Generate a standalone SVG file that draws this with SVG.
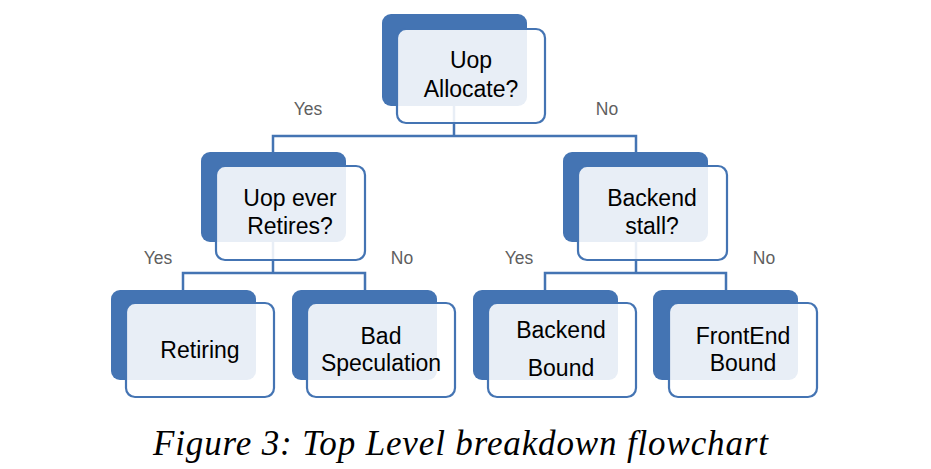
<svg xmlns="http://www.w3.org/2000/svg" width="931" height="469" viewBox="0 0 931 469">
<defs>
<style>
.dk{fill:#4474B3}
.lt{fill:#fff;fill-opacity:0.88;stroke:#4474B3;stroke-width:2.2}
.conn{fill:none;stroke:#4474B3;stroke-width:2.5}
.t{font-family:"Liberation Sans",Arial,sans-serif;font-size:23px;fill:#000;text-anchor:middle}
.lb{font-family:"Liberation Sans",Arial,sans-serif;font-size:17.5px;fill:#5F5F5F;text-anchor:middle}
.cap{font-family:"Liberation Serif","Times New Roman",serif;font-style:italic;font-size:35px;fill:#000;text-anchor:middle}
</style>
</defs>
<rect width="931" height="469" fill="#fff"/>
<g id="connectors">
<path class="conn" d="M454,106 V136 H273 V152 M454,136 H636 V152"/>
<path class="conn" d="M273,242 V273 H183 V290 M273,273 H365 V290"/>
<path class="conn" d="M636,242 V273 H545 V290 M636,273 H726 V290"/>
</g>
<g id="n-allocate">
<rect class="dk" x="382" y="14" width="145" height="92" rx="9"/>
<rect class="lt" x="397" y="29" width="148" height="94" rx="9"/>
<text class="t" x="471" y="68">Uop</text>
<text class="t" x="471" y="97">Allocate?</text>
</g>
<g id="n-retires">
<rect class="dk" x="201" y="152" width="145" height="90" rx="9"/>
<rect class="lt" x="216" y="166" width="149" height="94" rx="9"/>
<text class="t" x="290" y="206">Uop ever</text>
<text class="t" x="290" y="234">Retires?</text>
</g>
<g id="n-backend-stall">
<rect class="dk" x="563" y="152" width="145" height="90" rx="9"/>
<rect class="lt" x="578" y="166" width="149" height="94" rx="9"/>
<text class="t" x="652" y="206">Backend</text>
<text class="t" x="652" y="234">stall?</text>
</g>
<g id="n-retiring">
<rect class="dk" x="111" y="290" width="145" height="90" rx="9"/>
<rect class="lt" x="126" y="303" width="148" height="94" rx="9"/>
<text class="t" x="200" y="358">Retiring</text>
</g>
<g id="n-bad-spec">
<rect class="dk" x="292" y="290" width="145" height="90" rx="9"/>
<rect class="lt" x="307" y="303" width="148" height="94" rx="9"/>
<text class="t" x="381" y="344">Bad</text>
<text class="t" x="381" y="371">Speculation</text>
</g>
<g id="n-backend-bound">
<rect class="dk" x="473" y="290" width="145" height="90" rx="9"/>
<rect class="lt" x="488" y="303" width="148" height="94" rx="9"/>
<text class="t" x="561" y="338">Backend</text>
<text class="t" x="561" y="376">Bound</text>
</g>
<g id="n-frontend-bound">
<rect class="dk" x="653" y="290" width="145" height="90" rx="9"/>
<rect class="lt" x="669" y="303" width="148" height="94" rx="9"/>
<text class="t" x="743" y="344">FrontEnd</text>
<text class="t" x="743" y="371">Bound</text>
</g>
<g id="labels">
<text class="lb" x="308" y="115">Yes</text>
<text class="lb" x="607" y="115">No</text>
<text class="lb" x="158" y="264">Yes</text>
<text class="lb" x="402" y="264">No</text>
<text class="lb" x="519" y="264">Yes</text>
<text class="lb" x="764" y="264">No</text>
</g>
<text class="cap" x="460.5" y="455" textLength="615" lengthAdjust="spacing">Figure 3: Top Level breakdown flowchart</text>
</svg>
